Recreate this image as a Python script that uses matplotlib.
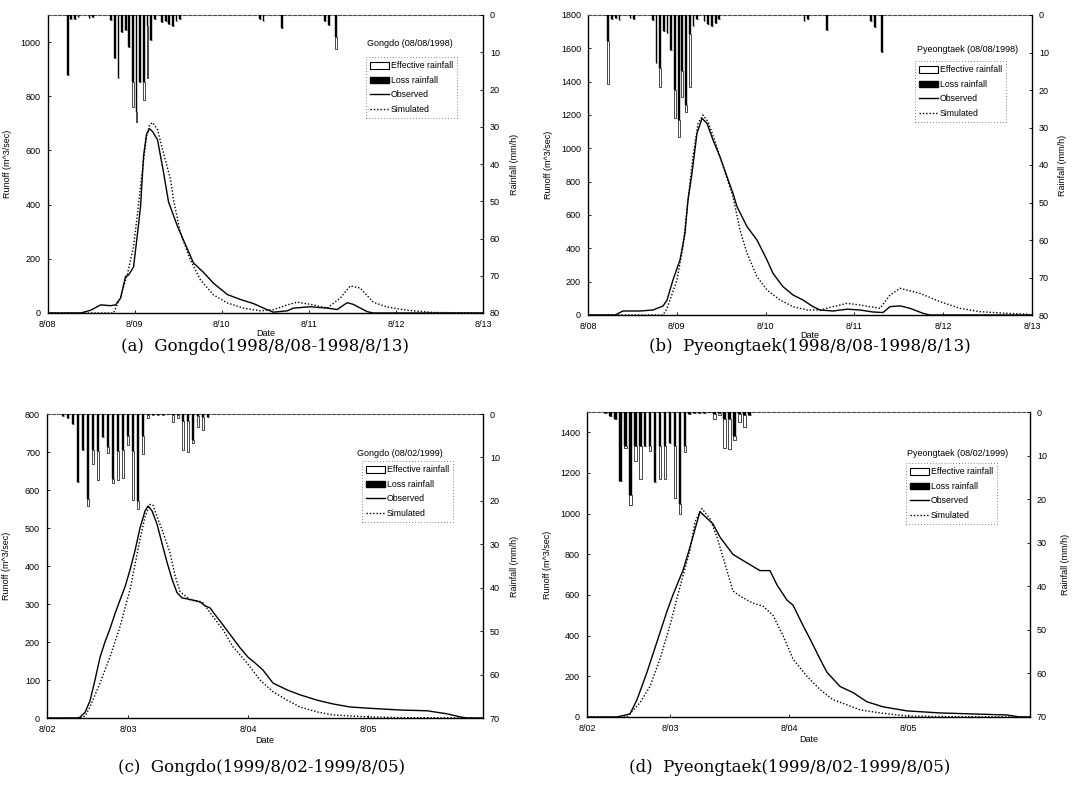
import numpy as np
import matplotlib
matplotlib.use('Agg')
import matplotlib.pyplot as plt
from matplotlib.patches import Patch
from matplotlib.lines import Line2D

plt.rcParams['font.family'] = ['Liberation Sans', 'DejaVu Sans']

# ---------------- DATA ----------------
# (a) Gongdo 1998 — time in days from 8/08 00:00, runoff m^3/s
a_obs_t = [0, 0.378, 0.493, 0.608, 0.722, 0.78, 0.837, 0.894, 0.929, 0.986, 1.032, 1.067, 1.101, 1.135,
           1.17, 1.204, 1.261, 1.33, 1.388, 1.491, 1.606, 1.674, 1.789, 1.904, 2.064, 2.213, 2.362, 2.523,
           2.592, 2.752, 2.821, 3.016, 3.211, 3.326, 3.44, 3.509, 3.67, 3.739, 5.0]
a_obs_q = [0, 0, 10, 30, 27, 30, 55, 135, 140, 170, 295, 395, 580, 660, 680, 670, 640, 520, 410, 320, 235,
           185, 150, 110, 68, 50, 35, 12, 3, 8, 18, 23, 18, 13, 38, 32, 5, 0, 0]
a_sim_t = [0, 0.757, 0.837, 0.917, 0.986, 1.032, 1.067, 1.101, 1.135, 1.17, 1.204, 1.261, 1.33, 1.411,
           1.445, 1.525, 1.64, 1.755, 1.904, 2.064, 2.248, 2.443, 2.592, 2.752, 2.867, 3.05, 3.211, 3.36,
           3.475, 3.589, 3.739, 3.899, 4.128, 4.427, 5.0]
a_sim_q = [0, 0, 60, 145, 245, 370, 470, 560, 650, 695, 703, 678, 590, 493, 418, 295, 195, 122, 67, 37,
           18, 8, 12, 30, 40, 30, 18, 55, 100, 92, 40, 22, 10, 2, 0]
# rainfall (hour centre from 8/08 00:00, total mm/h, loss mm/h)
a_rain_h = [5.5, 6.5, 7.5, 8.5, 11.5, 12.5, 17.5, 18.5, 19.5, 20.5, 21.5, 22.5, 23.5, 24.5, 25.5, 26.5,
            27.5, 28.5, 29.5, 31.5, 32.5, 33.5, 34.5, 35.5, 36.5, 58.5, 59.5, 64.5, 76.5, 77.5, 79.5]
a_rain = [16.0, 1.2, 1.0, 0.6, 0.8, 0.6, 1.3, 11.6, 17.0, 4.5, 4.0, 8.5, 24.6, 28.6, 18.0, 22.8, 17.0, 6.7,
          1.0, 2.0, 1.5, 2.5, 3.0, 1.5, 1.0, 1.0, 1.5, 3.5, 1.5, 2.7, 9.0]
a_loss = [16.0, 1.2, 1.0, 0.6, 0.8, 0.6, 1.3, 11.6, 17.0, 4.5, 4.0, 8.5, 18.0, 26.0, 18.0, 18.0, 3.0, 6.7,
          1.0, 2.0, 1.5, 2.5, 3.0, 1.5, 1.0, 1.0, 1.5, 3.5, 1.5, 2.7, 6.0]

# (b) Pyeongtaek 1998
b_obs_t = [0, 0.304, 0.394, 0.586, 0.732, 0.845, 0.89, 0.957, 1.036, 1.092, 1.126, 1.171, 1.227, 1.284,
           1.34, 1.408, 1.486, 1.565, 1.633, 1.678, 1.791, 1.903, 2.016, 2.083, 2.196, 2.309, 2.421, 2.534,
           2.613, 2.759, 2.917, 3.063, 3.209, 3.322, 3.401, 3.514, 3.626, 3.773, 3.851, 5.0]
b_obs_q = [0, 0, 24, 24, 30, 54, 90, 210, 330, 490, 690, 850, 1090, 1180, 1150, 1050, 950, 830, 730, 650,
           530, 450, 330, 250, 170, 120, 90, 50, 30, 24, 35, 30, 18, 15, 50, 55, 40, 10, 0, 0]
b_sim_t = [0, 0.845, 0.89, 1.002, 1.07, 1.126, 1.182, 1.239, 1.295, 1.351, 1.419, 1.486, 1.565, 1.633,
           1.712, 1.791, 1.903, 2.016, 2.162, 2.309, 2.466, 2.613, 2.759, 2.917, 3.063, 3.288, 3.401, 3.514,
           3.739, 3.964, 4.189, 4.414, 4.718, 4.944, 5.0]
b_sim_q = [0, 0, 40, 210, 410, 690, 950, 1150, 1200, 1160, 1060, 950, 820, 710, 510, 370, 230, 150, 90, 50,
           30, 30, 50, 70, 60, 40, 120, 160, 130, 80, 40, 20, 10, 5, 0]
b_rain_h = [5.5, 6.5, 7.5, 8.5, 11.5, 12.5, 17.5, 18.5, 19.5, 20.5, 21.5, 22.5, 23.5, 24.5, 25.5, 26.5,
            27.5, 28.5, 29.5, 31.5, 32.5, 33.5, 34.5, 35.5, 58.5, 59.5, 64.5, 76.5, 77.5, 79.5]
b_rain = [18.4, 1.0, 0.8, 1.2, 0.8, 1.0, 1.3, 12.9, 19.1, 4.2, 4.9, 9.3, 27.5, 32.4, 21.8, 25.8, 19.1, 3.0,
          1.0, 1.5, 2.5, 3.0, 2.0, 1.0, 1.5, 1.0, 4.0, 1.5, 3.1, 9.8]
b_loss = [7.0, 1.0, 0.8, 1.2, 0.8, 1.0, 1.3, 12.9, 14.0, 4.2, 4.9, 9.3, 20.0, 28.0, 15.0, 24.0, 5.0, 3.0,
          1.0, 1.5, 2.5, 3.0, 2.0, 1.0, 1.5, 1.0, 4.0, 1.5, 3.1, 9.8]

# (c) Gongdo 1999 — time in days from 8/02 00:00
c_obs_t = [0.325, 0.575, 0.6, 0.642, 0.683, 0.725, 0.767, 0.808, 0.85, 0.892, 0.933, 0.975, 1.017, 1.058,
           1.1, 1.142, 1.167, 1.2, 1.242, 1.283, 1.325, 1.367, 1.408, 1.45, 1.517, 1.6, 1.642, 1.683, 1.725,
           1.767, 1.85, 1.933, 2.0, 2.058, 2.125, 2.208, 2.325, 2.433, 2.575, 2.708, 2.85, 2.992, 3.267,
           3.492, 3.658, 3.767, 3.825, 3.958]
c_obs_q = [0, 0, 2, 15, 45, 100, 160, 200, 235, 275, 310, 345, 390, 440, 500, 545, 558, 545, 510, 460, 410,
           365, 330, 316, 312, 306, 295, 290, 272, 255, 220, 185, 160, 145, 126, 92, 74, 61, 47, 37, 29, 26,
           21, 19, 11, 3, 0, 0]
c_sim_t = [0.325, 0.6, 0.642, 0.683, 0.767, 0.85, 0.933, 1.017, 1.1, 1.142, 1.183, 1.208, 1.242, 1.292,
           1.35, 1.392, 1.433, 1.517, 1.625, 1.708, 1.792, 1.875, 1.992, 2.1, 2.208, 2.325, 2.433, 2.575,
           2.708, 2.992, 3.267, 3.958]
c_sim_q = [0, 0, 5, 29, 92, 161, 240, 338, 470, 530, 562, 560, 530, 488, 435, 375, 333, 311, 303, 267, 232,
           187, 145, 100, 69, 47, 29, 16, 8, 3, 1, 0]
rain99_h = list(range(11, 41))  # hour centres from 8/02 00:00
c_rain = [0.4, 1.0, 2.2, 15.6, 8.3, 21.2, 11.4, 15.2, 5.2, 8.9, 16.0, 15.2, 14.8, 7.2, 19.9, 21.8, 9.1, 1.0,
          0.3, 0.3, 0.2, 0.0, 1.8, 1.0, 8.3, 8.7, 6.6, 2.9, 3.7, 0.8]
c_loss = [0.4, 1.0, 2.2, 15.6, 8.3, 19.5, 8.3, 8.5, 5.2, 7.5, 15.0, 8.5, 8.2, 5.0, 8.5, 20.0, 5.0, 0.3,
          0.3, 0.3, 0.2, 0.0, 0.3, 0.2, 1.5, 1.5, 6.0, 0.5, 0.8, 0.8]

# (d) Pyeongtaek 1999
d_obs_t = [0.303, 0.555, 0.664, 0.723, 0.807, 0.891, 0.975, 1.025, 1.084, 1.109, 1.168, 1.252, 1.361,
           1.42, 1.529, 1.613, 1.756, 1.84, 1.899, 1.983, 2.034, 2.118, 2.176, 2.261, 2.319, 2.429, 2.538,
           2.655, 2.79, 2.992, 3.269, 3.546, 3.832, 3.941, 4.025]
d_obs_q = [0, 0, 15, 85, 220, 370, 520, 600, 685, 720, 835, 1010, 950, 885, 800, 770, 720, 720, 650, 575,
           550, 450, 385, 285, 220, 150, 120, 75, 50, 30, 20, 15, 10, 0, 0]
d_sim_t = [0.303, 0.639, 0.748, 0.832, 0.916, 1.0, 1.084, 1.168, 1.21, 1.269, 1.336, 1.395, 1.479, 1.529,
           1.588, 1.697, 1.782, 1.866, 1.95, 2.034, 2.151, 2.261, 2.37, 2.487, 2.597, 2.765, 2.992, 3.269,
           4.025]
d_sim_q = [0, 0, 70, 150, 285, 450, 640, 820, 960, 1025, 975, 885, 720, 620, 595, 560, 545, 500, 400, 285,
           200, 135, 85, 60, 35, 20, 5, 2, 0]
d_rain = [0.3, 0.9, 1.5, 15.8, 8.2, 21.4, 11.2, 15.3, 7.8, 8.9, 16.0, 15.3, 15.3, 7.0, 19.8, 23.4, 9.2, 0.5,
          0.3, 0.3, 0.2, 0.0, 1.7, 0.8, 8.2, 8.5, 6.4, 2.4, 3.4, 0.8]
d_loss = [0.3, 0.9, 1.5, 15.8, 7.8, 19.0, 7.8, 7.8, 7.8, 7.8, 16.0, 7.8, 7.8, 7.0, 7.8, 21.0, 7.8, 0.5,
          0.3, 0.3, 0.2, 0.0, 0.4, 0.3, 1.5, 1.5, 5.5, 0.5, 0.8, 0.8]

ticks98 = ['8/08', '8/09', '8/10', '8/11', '8/12', '8/13']
ticks99 = ['8/02', '8/03', '8/04', '8/05']

# ---------------- FIGURE ----------------
W, H = 1073, 789
fig = plt.figure(figsize=(W / 100, H / 100), dpi=100)


def px_axes(l, t, r, b):
    return fig.add_axes([l / W, 1 - b / H, (r - l) / W, (b - t) / H])


def panel(rect, obs_t, obs_q, sim_t, sim_q, rain_t, rain, loss, bar_w,
          xlim, xticks, xlabels, ymax, yticks, rmax, title, leg_xy, title_xy, caption, cap_xy,
          ylab_x, rlab_x, date_y):
    ax = px_axes(*rect)
    ax.plot(obs_t, obs_q, color='black', lw=1.0, solid_joinstyle='round')
    ax.plot(sim_t, sim_q, color='black', lw=1.0, linestyle=(0, (1, 1.4)))
    ax.set_xlim(*xlim)
    ax.set_ylim(0, ymax)
    ax.set_yticks(yticks)
    ax.set_xticks(xticks)
    ax.set_xticklabels(xlabels)
    ax.tick_params(axis='both', direction='in', length=2.5, width=0.6, labelsize=6.5, pad=5)
    ax.set_ylabel('Runoff (m^3/sec)', fontsize=6.5)
    ax.yaxis.set_label_coords(ylab_x, 0.5)
    ax.set_xlabel('Date', fontsize=6.5)
    ax.xaxis.set_label_coords(0.5, date_y)
    for s in ['left', 'bottom', 'right']:
        ax.spines[s].set_linewidth(1.0)
    ax.spines['top'].set_linewidth(0.8)
    ax.spines['top'].set_linestyle((0, (3, 1.5)))
    ax.spines['top'].set_color('0.3')

    ax2 = ax.twinx()
    eff = [r - l for r, l in zip(rain, loss)]
    ax2.bar(rain_t, loss, width=bar_w, color='black', edgecolor='black', linewidth=0.3, align='center')
    ax2.bar(rain_t, eff, bottom=loss, width=bar_w, color='white', edgecolor='black', linewidth=0.5,
            align='center')
    ax2.set_ylim(rmax, 0)
    ax2.set_yticks(np.arange(0, rmax + 1, 10))
    ax2.tick_params(axis='y', direction='in', length=2.5, width=0.6, labelsize=6.5, pad=5)
    ax2.set_ylabel('Rainfall (mm/h)', fontsize=6.5)
    ax2.yaxis.set_label_coords(rlab_x, 0.5)
    for s in ax2.spines.values():
        s.set_visible(False)
    ax2.set_xlim(*xlim)

    handles = [Patch(facecolor='white', edgecolor='black', linewidth=0.8),
               Patch(facecolor='black', edgecolor='black'),
               Line2D([], [], color='black', lw=1.0),
               Line2D([], [], color='black', lw=1.0, linestyle=(0, (1, 1.4)))]
    labels = ['Effective rainfall', 'Loss rainfall', 'Observed', 'Simulated']
    leg = ax2.legend(handles, labels, loc='upper left',
                     bbox_to_anchor=(leg_xy[0] / W, 1 - leg_xy[1] / H), bbox_transform=fig.transFigure,
                     fontsize=6.3, handlelength=2.1, handleheight=0.75, handletextpad=0.25,
                     labelspacing=0.62, borderpad=0.5, borderaxespad=0, fancybox=False, framealpha=1)
    fr = leg.get_frame()
    fr.set_linestyle((0, (1, 2.5)))
    fr.set_edgecolor('0.35')
    fr.set_linewidth(0.6)
    fig.text(title_xy[0] / W, 1 - title_xy[1] / H, title, fontsize=6.5, ha='left', va='center')
    fig.text(cap_xy[0] / W, 1 - cap_xy[1] / H, caption, fontsize=12, ha='center', va='center',
             family=['DejaVu Serif'])


panel((47.7, 15, 483, 313), a_obs_t, a_obs_q, a_sim_t, a_sim_q,
      [h / 24 for h in a_rain_h], a_rain, a_loss, 0.021,
      (0, 5), range(6), ticks98, 1100, range(0, 1001, 200), 80,
      'Gongdo (08/08/1998)', (366, 57), (367, 43),
      '(a)  Gongdo(1998/8/08-1998/8/13)', (265, 347), -0.082, 1.062, -0.055)

panel((588, 15, 1032, 315), b_obs_t, b_obs_q, b_sim_t, b_sim_q,
      [h / 24 for h in b_rain_h], b_rain, b_loss, 0.021,
      (0, 5), range(6), ticks98, 1800, range(0, 1801, 200), 80,
      'Pyeongtaek (08/08/1998)', (915, 61), (917, 49),
      '(b)  Pyeongtaek(1998/8/08-1998/8/13)', (810, 347), -0.078, 1.058, -0.055)

panel((47, 414, 483, 718), c_obs_t, c_obs_q, c_sim_t, c_sim_q,
      [h / 24 for h in rain99_h], c_rain, c_loss, 0.022,
      (0.325, 3.958), [0.325, 1, 2, 3], ticks99, 800, range(0, 801, 100), 70,
      'Gongdo (08/02/1999)', (362, 461), (357, 453),
      '(c)  Gongdo(1999/8/02-1999/8/05)', (262, 768), -0.082, 1.062, -0.058)

panel((587, 412, 1030, 717), d_obs_t, d_obs_q, d_sim_t, d_sim_q,
      [h / 24 for h in rain99_h], d_rain, d_loss, 0.022,
      (0.303, 4.025), [0.303, 1, 2, 3], ticks99, 1500, range(0, 1401, 200), 70,
      'Pyeongtaek (08/02/1999)', (906, 463), (907, 454),
      '(d)  Pyeongtaek(1999/8/02-1999/8/05)', (790, 768), -0.08, 1.07, -0.058)

fig.savefig('out.png', dpi=100)
